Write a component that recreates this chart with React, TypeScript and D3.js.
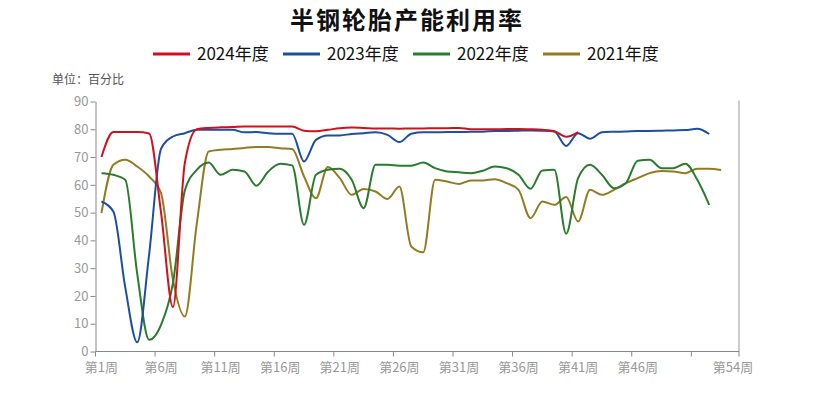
import React, { useRef, useEffect } from 'react';
import * as d3 from 'd3';

const weeks: number[] = d3.range(1, 55);

const series2024: number[] = [
  70, 79, 79, 79, 78.5, 50, 16, 68, 80, 80.5,
  80.7, 80.8, 81, 81, 81, 81, 81, 79.5, 79.3, 79.8,
  80.4, 80.6, 80.5, 80.3, 80.3, 80.2, 80.3, 80.3, 80.4, 80.4,
  80.5, 80, 80, 80, 80.1, 80.1, 80, 79.8, 79.3, 77.3,
  79,
];

const series2023: number[] = [
  54, 50.4, 23, 3.3, 35, 73, 77.4, 78.6, 79.8, 79.8,
  79.8, 79.8, 78.9, 79, 78.6, 78.4, 78.4, 68.4, 76.2, 77.8,
  77.8, 78.3, 78.6, 78.9, 78, 75.4, 78.4, 78.9, 78.9, 79,
  79, 79.1, 79.1, 79.4, 79.4, 79.5, 79.6, 79.5, 79.2, 74,
  78.6, 76.6, 78.9, 79.1, 79.2, 79.4, 79.4, 79.5, 79.6, 79.7,
  80.2, 78.3,
];

const series2022: number[] = [
  64.2, 63.6, 61.8, 28, 4.2, 9.6, 24.6, 58, 65.4, 68,
  63.6, 65.4, 64.8, 59.7, 64.8, 67.6, 67, 45.6, 63.6, 65.4,
  65.8, 61.8, 51.6, 67.2, 67.2, 66.9, 66.9, 68, 66, 64.8,
  64.5, 64.2, 65.1, 66.6, 66, 63.6, 58.6, 65.2, 65.4, 42.4,
  62.4, 67.2, 63.6, 58.8, 60.6, 68.7, 69, 66, 66, 67.6,
  61.8, 52.8,
];

const series2021: number[] = [
  49.8, 67.2, 69, 66.6, 63, 57, 25.8, 12.6, 46, 72,
  72.6, 72.9, 73.3, 73.6, 73.6, 73.2, 72.9, 63, 55.2, 66.4,
  62.4, 56.4, 58.5, 57.6, 54.9, 59.4, 37.8, 35.7, 61.8, 61.2,
  60.3, 61.6, 61.6, 62, 60.6, 58.2, 48, 54, 52.8, 55.6,
  46.8, 58.2, 56.4, 58.2, 60.6, 62.4, 64.2, 65, 64.8, 64.2,
  65.8, 65.8, 65.3,
];

const seriesNames: string[] = ['2024年度', '2023年度', '2022年度', '2021年度'];
const seriesColors: string[] = ['#d0111b', '#1d4f9f', '#2a7b2e', '#937b22'];
const yTicks: number[] = [0, 10, 20, 30, 40, 50, 60, 70, 80, 90];
const labelWeeks: number[] = [1, 6, 11, 16, 21, 26, 31, 36, 41, 46, 54];
const tickWeeks: number[] = [1, 6, 11, 16, 21, 26, 31, 36, 41, 46, 51];

const FONT = '"Noto Sans CJK SC", "Noto Sans", sans-serif';

function App() {
  const ref = useRef<SVGSVGElement>(null);

  useEffect(() => {
    const svg = d3.select(ref.current);
    svg.selectAll('*').remove();

    const width = 814;
    const left = 95.5;
    const right = 739;
    const top = 101.5;
    const bottom = 351.5;

    const x = d3.scaleBand<number>().domain(weeks).range([left, right]).padding(0);
    const cx = (w: number) => (x(w) as number) + x.bandwidth() / 2;
    const y = d3.scaleLinear().domain([0, 90]).range([bottom, top]);

    // title
    svg.append('text')
      .attr('x', width / 2)
      .attr('y', 29)
      .attr('text-anchor', 'middle')
      .attr('font-family', FONT)
      .attr('font-weight', 'bold')
      .attr('font-size', 24)
      .attr('letter-spacing', 2)
      .attr('fill', '#111')
      .text('半钢轮胎产能利用率');

    // legend
    const legendX = [153, 283, 413, 543];
    seriesNames.forEach((name, i) => {
      const g = svg.append('g').attr('transform', `translate(${legendX[i]},54)`);
      g.append('line')
        .attr('x1', 0).attr('x2', 37)
        .attr('stroke', seriesColors[i])
        .attr('stroke-width', 3);
      g.append('text')
        .attr('x', 44)
        .attr('y', 6)
        .attr('font-family', FONT)
        .attr('font-size', 17)
        .attr('fill', '#111')
        .text(name);
    });

    // unit
    svg.append('text')
      .attr('x', 52)
      .attr('y', 84)
      .attr('font-family', FONT)
      .attr('font-size', 12)
      .attr('fill', '#555')
      .text('单位：百分比');

    // y axis
    const yAxis = svg.append('g')
      .attr('transform', `translate(${left},0)`)
      .call(d3.axisLeft(y).tickValues(yTicks).tickSize(5).tickSizeOuter(0));
    yAxis.select('.domain').attr('stroke', '#888');
    yAxis.selectAll('.tick line').attr('stroke', '#888');
    yAxis.selectAll('.tick text')
      .attr('fill', '#999')
      .attr('font-family', FONT)
      .attr('font-size', 13)
      .attr('x', -7);

    // right border
    svg.append('line')
      .attr('x1', right).attr('x2', right)
      .attr('y1', top - 1).attr('y2', bottom)
      .attr('stroke', '#999');

    // x axis
    const xAxis = svg.append('g');
    xAxis.append('line')
      .attr('x1', left).attr('x2', right)
      .attr('y1', bottom).attr('y2', bottom)
      .attr('stroke', '#888');
    const tickPos = tickWeeks.map(w => x(w) as number).concat([right]);
    xAxis.selectAll('line.tick')
      .data(tickPos)
      .join('line')
      .attr('class', 'tick')
      .attr('x1', d => d).attr('x2', d => d)
      .attr('y1', bottom).attr('y2', bottom + 5)
      .attr('stroke', '#888');
    xAxis.selectAll('text')
      .data(labelWeeks)
      .join('text')
      .attr('x', d => cx(d))
      .attr('y', bottom + 20)
      .attr('text-anchor', 'middle')
      .attr('font-family', FONT)
      .attr('font-size', 13)
      .attr('fill', '#999')
      .text(d => `第${d}周`);

    // lines
    const allSeries = [series2024, series2023, series2022, series2021];
    const line = d3.line<number>()
      .x((_, i) => cx(weeks[i]))
      .y(d => y(d))
      .curve(d3.curveMonotoneX);

    // draw older years first so 2024 is on top
    [3, 2, 1, 0].forEach(i => {
      svg.append('path')
        .datum(allSeries[i])
        .attr('fill', 'none')
        .attr('stroke', seriesColors[i])
        .attr('stroke-width', 2)
        .attr('stroke-linejoin', 'round')
        .attr('d', line);
    });
  }, []);

  return (
    <svg
      ref={ref}
      width={814}
      height={399}
      style={{ position: 'absolute', left: 0, top: 0, background: '#fff' }}
    ></svg>
  );
}

export default App;
